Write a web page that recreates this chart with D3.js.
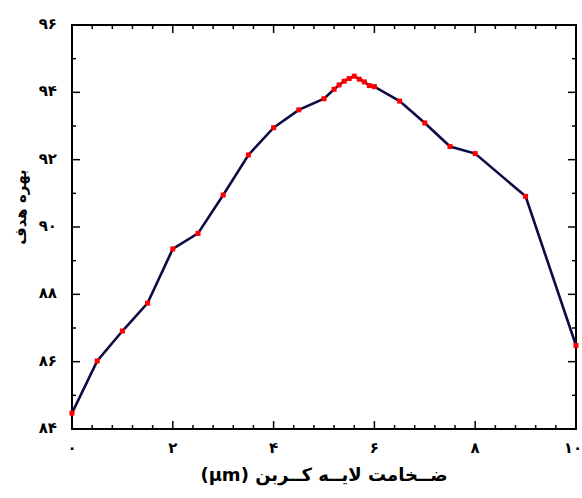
<!DOCTYPE html>
<html><head><meta charset="utf-8">
<script src="https://cdn.jsdelivr.net/npm/d3@7"></script>
<style>body{margin:0;background:#fff}svg{display:block}</style>
</head><body>
<svg id="c" width="582" height="498"></svg>
<script>
const xValues = [0,0.5,1,1.5,2,2.5,3,3.5,4,4.5,5,5.2,5.3,5.4,5.5,5.6,5.7,5.8,5.9,6,6.5,7,7.5,8,9,10];
const yValues = [84.47,86.02,86.91,87.74,89.35,89.81,90.95,92.14,92.95,93.48,93.81,94.09,94.22,94.33,94.41,94.48,94.39,94.31,94.2,94.17,93.74,93.09,92.39,92.18,90.91,86.48];
const xTicks = [0,2,4,6,8,10];
const xTickLabels = ["۰","۲","۴","۶","۸","۱۰"];
const yTicks = [84,86,88,90,92,94,96];
const yTickLabels = ["۸۴","۸۶","۸۸","۹۰","۹۲","۹۴","۹۶"];
const xTitle = "ضــخامت لایــه کــربن (μm)";
const yTitle = "بهره هدف";

const svg = d3.select("#c");
const L=72,R=576,T=25,B=429;
const x = d3.scaleLinear().domain([0,10]).range([L,R]);
const y = d3.scaleLinear().domain([84,96]).range([B,T]);
const font = "'DejaVu Sans', sans-serif";

const xMinor = d3.range(0,26).filter(i=>i%5!==0).map(i=>i*0.4);
const yMinor = [85,87,89,91,93,95];

// ticks (inward) on all four sides
const g = svg.append("g").attr("stroke","#000").attr("stroke-width",1.5);
xTicks.forEach(v=>{
  g.append("line").attr("x1",x(v)).attr("x2",x(v)).attr("y1",B).attr("y2",B-8);
  g.append("line").attr("x1",x(v)).attr("x2",x(v)).attr("y1",T).attr("y2",T+8);
});
xMinor.forEach(v=>{
  g.append("line").attr("x1",x(v)).attr("x2",x(v)).attr("y1",B).attr("y2",B-4);
  g.append("line").attr("x1",x(v)).attr("x2",x(v)).attr("y1",T).attr("y2",T+4);
});
yTicks.forEach(v=>{
  g.append("line").attr("y1",y(v)).attr("y2",y(v)).attr("x1",L).attr("x2",L+8);
  g.append("line").attr("y1",y(v)).attr("y2",y(v)).attr("x1",R).attr("x2",R-8);
});
yMinor.forEach(v=>{
  g.append("line").attr("y1",y(v)).attr("y2",y(v)).attr("x1",L).attr("x2",L+4);
  g.append("line").attr("y1",y(v)).attr("y2",y(v)).attr("x1",R).attr("x2",R-4);
});

svg.append("rect").attr("x",L).attr("y",T).attr("width",R-L).attr("height",B-T)
  .attr("fill","none").attr("stroke","#000").attr("stroke-width",2);

// tick labels
svg.selectAll(".xt").data(xTicks).enter().append("text")
  .attr("x",d=>Math.min(x(d),573)).attr("y",453).attr("text-anchor","middle")
  .attr("font-family",font).attr("font-size",15).attr("font-weight","bold")
  .text((d,i)=>xTickLabels[i]);
svg.selectAll(".yt").data(yTicks).enter().append("text")
  .attr("x",57).attr("y",d=>y(d)+4).attr("text-anchor","end")
  .attr("font-family",font).attr("font-size",15).attr("font-weight","bold")
  .text((d,i)=>yTickLabels[i]);

// titles
svg.append("text").attr("x",(L+R)/2).attr("y",481).attr("text-anchor","middle")
  .attr("direction","rtl").attr("font-family",font).attr("font-size",18).attr("font-weight","bold")
  .text(xTitle);
svg.append("text").attr("transform","translate(26,207) rotate(-90)").attr("text-anchor","middle")
  .attr("direction","rtl").attr("font-family",font).attr("font-size",15).attr("font-weight","bold")
  .text(yTitle);

// line + markers
const pts = xValues.map((v,i)=>[v,yValues[i]]);
svg.append("path").datum(pts)
  .attr("d",d3.line().x(d=>x(d[0])).y(d=>y(d[1])))
  .attr("fill","none").attr("stroke","#0c0c44").attr("stroke-width",2.6);
svg.selectAll(".m").data(pts).enter().append("rect")
  .attr("x",d=>x(d[0])-2.5).attr("y",d=>y(d[1])-2.5).attr("width",5).attr("height",5)
  .attr("fill","#ff0000");
</script>
</body></html>
